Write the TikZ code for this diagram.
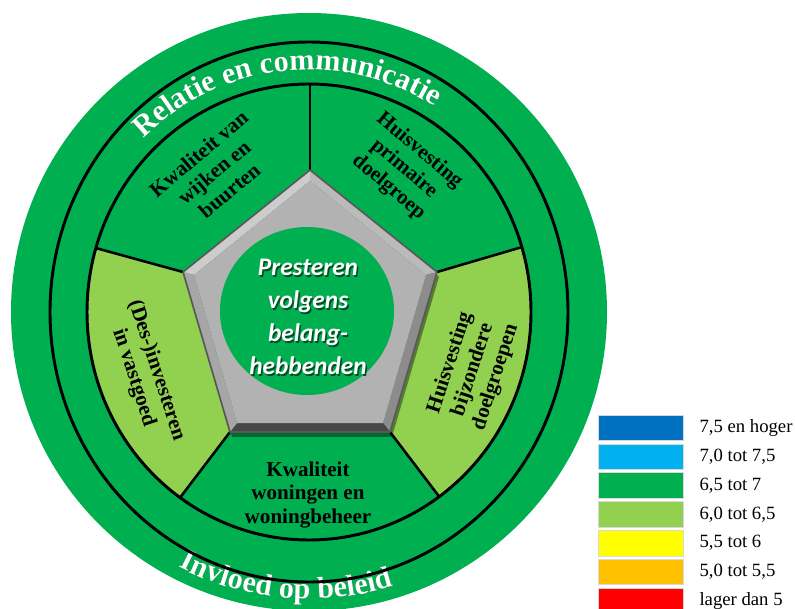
\documentclass[tikz,border=0pt]{standalone}
\usepackage{fontspec}
\setmainfont{Liberation Serif}
\newfontfamily\calibri{Carlito}
\usetikzlibrary{positioning,calc,decorations.text}
\definecolor{grn}{HTML}{00B050}
\definecolor{lgrn}{HTML}{92D050}
\definecolor{dblue}{HTML}{0070C0}
\definecolor{lblue}{HTML}{00B0F0}
\definecolor{yel}{HTML}{FFFF00}
\definecolor{orn}{HTML}{FFC000}
\definecolor{rd}{HTML}{FF0000}
\newcommand\arcfont{\fontsize{21.5}{24}\selectfont\bfseries}
\tikzset{
	ring/.style={draw=black, line width=2.1pt},
	divider/.style={black, line width=1.8pt},
	sectortext/.style={font=\fontsize{15}{17}\selectfont\bfseries, align=center, inner sep=0pt},
	centertext/.style={font=\calibri\fontsize{18}{23.5}\selectfont\bfseries\itshape, align=center, text=white, inner sep=0pt},
	arctext/.style={decorate, decoration={text along path, text align=center, text color=white}},
	keybox/.style={minimum width=2.125cm, minimum height=0.64cm, inner sep=0pt, draw=black!15, line width=.3pt},
	keylabel/.style={font=\fontsize{13.3}{15}\selectfont, inner sep=0pt}
}
\begin{document}
\begin{tikzpicture}[x=0.025cm, y=0.025cm]
		\useasboundingbox (0,0) rectangle (795,608);
		\coordinate (O) at (309,296);
		\fill[grn] (O) ellipse[x radius=298, y radius=299];

		% pentagon corners and where the dividers leave the ring
		\coordinate (pt) at (310,438); \coordinate (pl) at (183,336); \coordinate (pr) at (437,336);
		\coordinate (pbl) at (230,176); \coordinate (pbr) at (390,176);
		\coordinate (ipt) at (310,427); \coordinate (ipl) at (194,333); \coordinate (ipr) at (426,333);
		\coordinate (ipbl) at (237,185); \coordinate (ipbr) at (383,185);
		\coordinate (ft) at (310,560); \coordinate (fl) at (1,386); \coordinate (fr) at (621,390);
		\coordinate (fbl) at (112,21); \coordinate (fbr) at (508,21);

		\begin{scope}
		\clip (O) ellipse[x radius=222, y radius=228];
		\fill[lgrn] (pl) -- (fl) -- (-20,296) -- (fbl) -- (pbl) -- cycle;
		\fill[lgrn] (pr) -- (fr) -- (640,296) -- (fbr) -- (pbr) -- cycle;
		\draw[divider] (pt) -- (ft); \draw[divider] (pl) -- (fl); \draw[divider] (pr) -- (fr);
		\draw[divider] (pbl) -- (fbl); \draw[divider] (pbr) -- (fbr);
		\end{scope}

		% lettering on the outer band
		\path[arctext, transform canvas={xshift=.04cm, yshift=-.04cm}, decoration={text color=black!55!grn, text={|\arcfont|Relatie en communicatie}}]
			($(O)+(156:238 and 242)$) arc[start angle=156, end angle=36, x radius=238, y radius=242];
		\path[arctext, decoration={text={|\arcfont|Relatie en communicatie}}]
			($(O)+(156:238 and 242)$) arc[start angle=156, end angle=36, x radius=238, y radius=242];
		\path[arctext, transform canvas={xshift=.04cm, yshift=-.04cm}, decoration={text color=black!55!grn, text={|\arcfont|Invloed op beleid}}]
			($(O)+(225:284 and 287)$) arc[start angle=225, end angle=305, x radius=284, y radius=287];
		\path[arctext, decoration={text={|\arcfont|Invloed op beleid}}]
			($(O)+(225:284 and 287)$) arc[start angle=225, end angle=305, x radius=284, y radius=287];

		\draw[ring] (O) ellipse[x radius=259, y radius=270];
		\draw[ring] (O) ellipse[x radius=222, y radius=228];

		% bevelled pentagon
		\fill[black, opacity=.4, transform canvas={xshift=.05cm, yshift=-.12cm}] (pt) -- (pr) -- (pbr) -- (pbl) -- (pl) -- cycle;
		\fill[black!20] (pt) -- (pl) -- (ipl) -- (ipt) -- cycle;
		\fill[black!27] (pt) -- (pr) -- (ipr) -- (ipt) -- cycle;
		\fill[black!45] (pr) -- (pbr) -- (ipbr) -- (ipr) -- cycle;
		\fill[black!72] (pbr) -- (pbl) -- (ipbl) -- (ipbr) -- cycle;
		\fill[black!35] (pbl) -- (pl) -- (ipl) -- (ipbl) -- cycle;
		\fill[black!30] (ipt) -- (ipr) -- (ipbr) -- (ipbl) -- (ipl) -- cycle;
		\draw[black!65, line width=1.2pt, line join=round] (pt) -- (pr) -- (pbr) -- (pbl) -- (pl) -- cycle;
		\fill[grn] (307,297) ellipse[x radius=87, y radius=84];

		\node[centertext, text=black!55!grn] (coreshade) at (309.5,289.5) {Presteren\\volgens\\belang-\\hebbenden};
		\node[centertext] (core) at (308,291) {Presteren\\volgens\\belang-\\hebbenden};

		\node[sectortext, rotate=40] (wijk) at (214,436) {Kwaliteit van\\wijken en\\buurten};
		\node[sectortext, rotate=-40] (prim) at (404,439) {Huisvesting\\primaire\\doelgroep};
		\node[sectortext, rotate=-72] (vast) at (145,234) {(Des-)investeren\\in vastgoed};
		\node[sectortext, rotate=72] (bijz) at (473,238) {Huisvesting\\bijzondere\\doelgroepen};
		\node[sectortext] (won) at (308,113) {Kwaliteit\\woningen en\\woningbeheer};

		% score key
		\node[keybox, fill=dblue] (k1) at (640.5,180.25) {};
		\node[keybox, fill=lblue, below=0.07cm of k1] (k2) {};
		\node[keybox, fill=grn, below=0.07cm of k2] (k3) {};
		\node[keybox, fill=lgrn, below=0.07cm of k3] (k4) {};
		\node[keybox, fill=yel, below=0.07cm of k4] (k5) {};
		\node[keybox, fill=orn, below=0.07cm of k5] (k6) {};
		\node[keybox, fill=rd, below=0.07cm of k6] (k7) {};
		\node[keylabel, right=0.4cm of k1] (l1) {7,5 en hoger};
		\node[keylabel, right=0.4cm of k2] (l2) {7,0 tot 7,5};
		\node[keylabel, right=0.4cm of k3] (l3) {6,5 tot 7};
		\node[keylabel, right=0.4cm of k4] (l4) {6,0 tot 6,5};
		\node[keylabel, right=0.4cm of k5] (l5) {5,5 tot 6};
		\node[keylabel, right=0.4cm of k6] (l6) {5,0 tot 5,5};
		\node[keylabel, right=0.4cm of k7] (l7) {lager dan 5};
\end{tikzpicture}
\end{document}
